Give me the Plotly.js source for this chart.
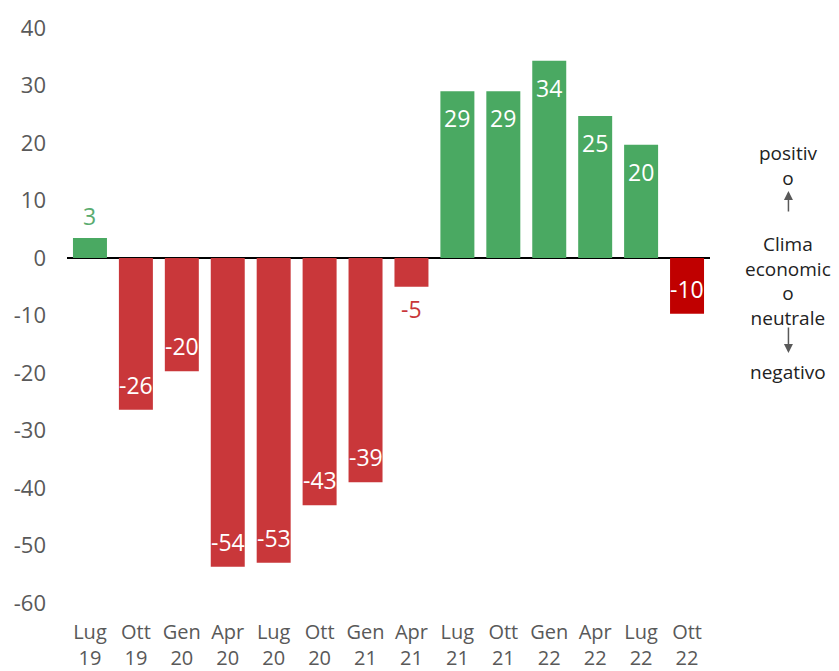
<!DOCTYPE html>
<html><head><meta charset="utf-8">
<script src="https://cdn.plot.ly/plotly-3.0.1.min.js"></script>
<style>body{margin:0;background:#fff}#c{width:839px;height:671px}</style>
</head><body><div id="c"></div>
<script>
const categories = ["Lug<br>19","Ott<br>19","Gen<br>20","Apr<br>20","Lug<br>20","Ott<br>20","Gen<br>21","Apr<br>21","Lug<br>21","Ott<br>21","Gen<br>22","Apr<br>22","Lug<br>22","Ott<br>22"];
const values = [3.5, -26.4, -19.7, -53.7, -53, -43, -39, -5, 29, 29, 34.3, 24.7, 19.7, -9.7];
const labels = ["3","-26","-20","-54","-53","-43","-39","-5","29","29","34","25","20","-10"];
const yTickVals = [-60,-50,-40,-30,-20,-10,0,10,20,30,40];
const yTickText = ["-60","-50","-40","-30","-20","-10","0","10","20","30","40"];

const GREEN = "#4aa962", RED = "#c9373a", DARK = "#c00000";
const colors = values.map((v,i)=> i===values.length-1 ? DARK : (v>=0 ? GREEN : RED));
const outside = labels.map(l => (l==="3"||l==="-5"));

const font = "'Open Sans', sans-serif";
const trace = {
  type:"bar", x: categories.map((c,i)=>i), y: values,
  marker:{color: colors}, width:0.74, hoverinfo:"none"
};
const labelAnns = values.map((v,i)=>{
  const out = outside[i];
  let shift = out ? (v>=0 ? 22 : -22) : (v>=0 ? -27 : 25);
  const col = out ? (v>=0 ? "#5aac70" : RED) : "#ffffff";
  return {xref:"x",yref:"y",x:i,y:v,yshift:shift,text:labels[i],showarrow:false,
    xanchor:"center",yanchor:"middle",font:{family:font,size:23,color:col}};
});
const py = p => (603 - p)/575;
const ann = (y, text) => ({xref:"paper",yref:"paper",x:1.121,y:py(y),xanchor:"center",yanchor:"middle",
  text:text,showarrow:false,font:{family:font,size:19,color:"#222"},align:"center"});
const layout = {
  width:839, height:671, margin:{l:67,r:129,t:28,b:68},
  paper_bgcolor:"#fff", plot_bgcolor:"#fff", showlegend:false,
  xaxis:{range:[-0.5,13.5], tickvals: categories.map((c,i)=>i), ticktext: categories,
    showgrid:false, zeroline:false, showline:false, ticks:"", ticklabelstandoff:15,
    tickfont:{family:font,size:20,color:"#595959"}},
  yaxis:{range:[-60,40], tickvals:yTickVals, ticktext:yTickText, showgrid:false, zeroline:true, zerolinecolor:"#000",
    zerolinewidth:1.5, showline:false, ticks:"", ticklabelstandoff:20,
    tickfont:{family:font,size:22,color:"#595959"}},
  annotations: labelAnns.concat([
    ann(165, "positiv<br>o"),
    ann(281, "Clima<br>economic<br>o<br>neutrale"),
    ann(372, "negativo"),
    {xref:"paper",yref:"paper",x:1.122,y:py(191),ax:0,ay:22,text:"",showarrow:true,
     arrowhead:2,arrowsize:1.2,arrowwidth:1.5,arrowcolor:"#595959"},
    {xref:"paper",yref:"paper",x:1.122,y:py(353),ax:0,ay:-27,text:"",showarrow:true,
     arrowhead:2,arrowsize:1.2,arrowwidth:1.5,arrowcolor:"#595959"}
  ])
};
Plotly.newPlot("c",[trace],layout,{displayModeBar:false,staticPlot:true});
</script></body></html>
